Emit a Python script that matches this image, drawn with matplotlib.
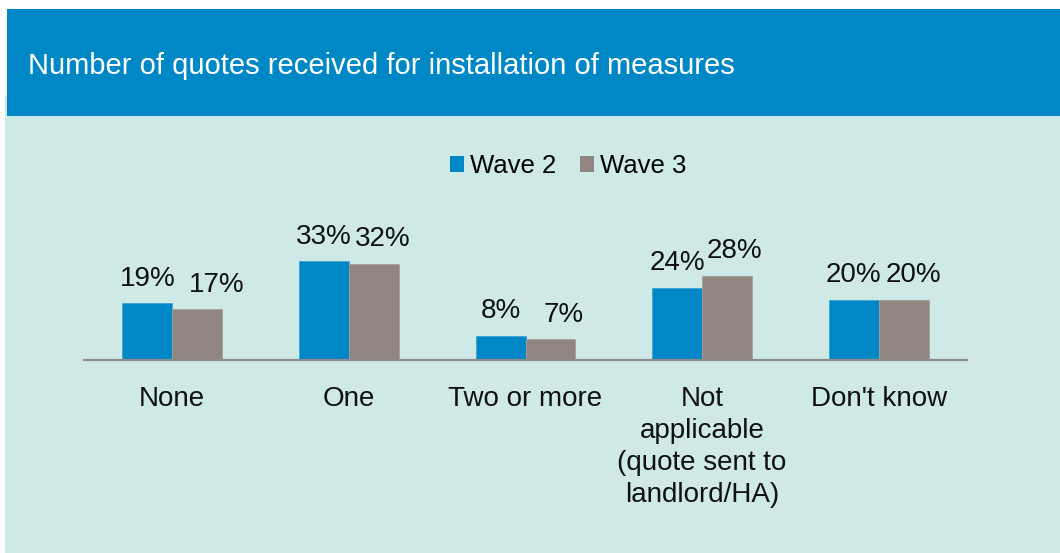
import numpy as np
import matplotlib
matplotlib.use('Agg')
import matplotlib.pyplot as plt
from matplotlib.patches import Rectangle, Patch

# --- DATA ---
categories = ['None', 'One', 'Two or more',
              'Not\napplicable\n(quote sent to\nlandlord/HA)', "Don't know"]
wave2 = [19, 33, 8, 24, 20]
wave3 = [17, 32, 7, 28, 20]
series_names = ['Wave 2', 'Wave 3']
title = 'Number of quotes received for installation of measures'

# --- STYLE ---
W, H = 1060, 553
c_header = '#0087C6'
c_panel = '#CFE9E6'
c_w2 = '#0087C6'
c_w3 = '#918580'
c_axis = '#8C8C8C'
FS = 20
# Excel nudged some wave 3 labels sideways to avoid overlaps (pixels)
w3_label_dx = [19, 9, 13, 7, 10]

plt.rcParams['font.family'] = ['Liberation Sans', 'DejaVu Sans']

fig = plt.figure(figsize=(W / 100, H / 100), dpi=100, facecolor='white')

def px_rect(x0, y0, x1, y1, color):
    # rectangle in pixel coords, origin at top-left
    fig.patches.append(Rectangle((x0 / W, 1 - y1 / H), (x1 - x0) / W, (y1 - y0) / H,
                                 transform=fig.transFigure, facecolor=color,
                                 edgecolor='none', zorder=-2))

px_rect(5, 96, W, H, c_panel)
px_rect(7, 9, W, 116, c_header)
fig.text(28 / W, 1 - 74 / H, title, color='white', fontsize=21, va='baseline', ha='left')

# axes: baseline at y=360px, x from 84 to 967 px, 3 px per percentage point
ax_left, ax_right = 84, 967
ax_bottom, ax_top = 360, 210
ax = fig.add_axes([ax_left / W, 1 - ax_bottom / H, (ax_right - ax_left) / W, (ax_bottom - ax_top) / H])
ax.set_zorder(2)
ax.set_facecolor('none')
ax.set_xlim(-0.5, len(categories) - 0.5)
ax.set_ylim(0, 50)

x = np.arange(len(categories))
bw = 0.283
b2 = ax.bar(x - bw / 2, wave2, bw, color=c_w2, edgecolor='#3FA3D4', linewidth=0.6, zorder=2)
b3 = ax.bar(x + bw / 2, wave3, bw, color=c_w3, edgecolor='#A89D99', linewidth=0.6, zorder=2)

for rect, v in zip(b2, wave2):
    ax.annotate(f'{v}%', (rect.get_x() + rect.get_width() / 2, v),
                xytext=(0, 12.6), textcoords='offset points',
                ha='center', va='baseline', fontsize=FS, color='#111111')
for rect, v, dx in zip(b3, wave3, w3_label_dx):
    ax.annotate(f'{v}%', (rect.get_x() + rect.get_width() / 2, v),
                xytext=(dx * 0.72, 12.6), textcoords='offset points',
                ha='center', va='baseline', fontsize=FS, color='#111111')

for s in ['top', 'left', 'right']:
    ax.spines[s].set_visible(False)
ax.spines['bottom'].set_color(c_axis)
ax.spines['bottom'].set_linewidth(1.6)
ax.set_yticks([])
ax.set_xticks(x)
ax.set_xticklabels(categories, fontsize=FS, color='#111111')
ax.tick_params(axis='x', length=0, pad=19)
for lbl in ax.get_xticklabels():
    lbl.set_linespacing(1.3)

handles = [Patch(facecolor=c_w2), Patch(facecolor=c_w3)]
fig.legend(handles, series_names, loc='center', bbox_to_anchor=(568 / W, 1 - 166 / H),
           ncol=2, frameon=False, fontsize=18.5, handlelength=0.55, handleheight=0.55,
           handletextpad=0.25, columnspacing=0.9, borderpad=0)

fig.savefig('out.png', dpi=100, facecolor='white')
